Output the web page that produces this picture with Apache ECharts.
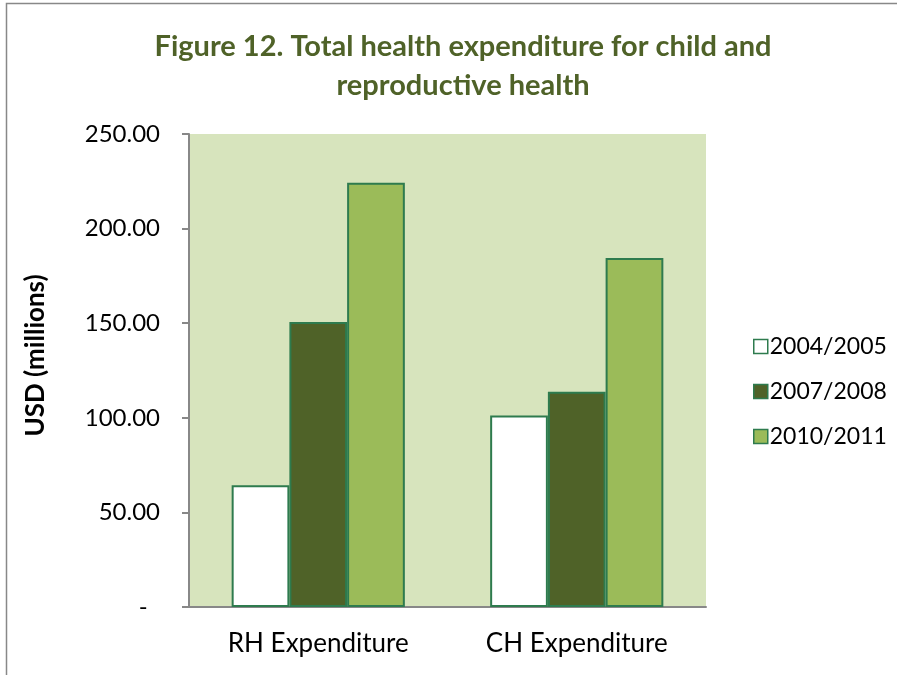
<!DOCTYPE html>
<html>
<head>
<meta charset="utf-8">
<script src="https://cdn.jsdelivr.net/npm/echarts@6/dist/echarts.min.js"></script>
<style>
  html, body { margin: 0; padding: 0; background: #fff; }
  #chart { width: 897px; height: 675px; }
</style>
</head>
<body>
<div id="chart"></div>
<script>
// chart data
const categories = ['RH Expenditure', 'CH Expenditure'];
const seriesNames = ['2004/2005', '2007/2008', '2010/2011'];
const values2004 = [64.4, 101.2];
const values2007 = [150.7, 113.8];
const values2010 = [224.2, 184.5];
const yTicks = [0, 50, 100, 150, 200, 250];

const fills = ['#FFFFFF', '#4F6228', '#9BBB59'];
const edge = '#2E7B4E';
const font = 'Lato, "Open Sans", sans-serif';

const myChart = echarts.init(document.getElementById('chart'));

const mkSeries = (name, data, i) => ({
  name: name,
  type: 'bar',
  data: data,
  barGap: '0%',
  barCategoryGap: '33%',
  itemStyle: { color: fills[i], borderColor: edge, borderWidth: 2 },
  emphasis: { disabled: true }
});

const option = {
  animation: false,
  backgroundColor: '#fff',
  graphic: [{
    type: 'rect',
    left: 4, top: 1,
    shape: { width: 900, height: 700 },
    style: { fill: 'none', stroke: '#888', lineWidth: 1.5 },
    silent: true
  }],
  title: {
    text: 'Figure 12. Total health expenditure for child and\nreproductive health',
    left: 458,
    textAlign: 'center',
    top: 22,
    textStyle: {
      color: '#4F6228',
      fontFamily: font,
      fontWeight: 'bold',
      fontSize: 29,
      lineHeight: 39
    }
  },
  legend: {
    orient: 'vertical',
    left: 748,
    top: 330,
    itemWidth: 14,
    itemHeight: 14,
    itemGap: 22,
    icon: 'rect',
    data: seriesNames,
    textStyle: { fontFamily: font, fontSize: 23, color: '#000', padding: [0, 0, 0, -3] },
    itemStyle: { borderColor: edge, borderWidth: 1.5 }
  },
  grid: { left: 189, top: 134, right: 191, bottom: 68, show: true, backgroundColor: '#D7E4BD', borderWidth: 0 },
  xAxis: {
    type: 'category',
    data: categories,
    axisLine: { show: true, lineStyle: { color: '#888', width: 2 } },
    axisTick: { show: false },
    axisLabel: { fontFamily: font, fontSize: 26, color: '#000', margin: 24 }
  },
  yAxis: {
    type: 'value',
    min: yTicks[0],
    max: yTicks[yTicks.length - 1],
    interval: 50,
    name: 'USD (millions)',
    nameLocation: 'middle',
    nameGap: 140,
    nameTextStyle: { fontFamily: font, fontSize: 26, fontWeight: 'bold', color: '#000', padding: [0, 0, 0, 30] },
    axisLine: { show: true, lineStyle: { color: '#888', width: 2 } },
    axisTick: { show: true, length: 7, lineStyle: { color: '#888', width: 2 } },
    splitLine: { show: false },
    axisLabel: {
      fontFamily: font, fontSize: 24, color: '#000', margin: 29,
      formatter: v => v === 0 ? '-  ' : v.toFixed(2)
    }
  },
  series: [
    mkSeries(seriesNames[0], values2004, 0),
    mkSeries(seriesNames[1], values2007, 1),
    mkSeries(seriesNames[2], values2010, 2)
  ]
};
myChart.setOption(option);
</script>
</body>
</html>
